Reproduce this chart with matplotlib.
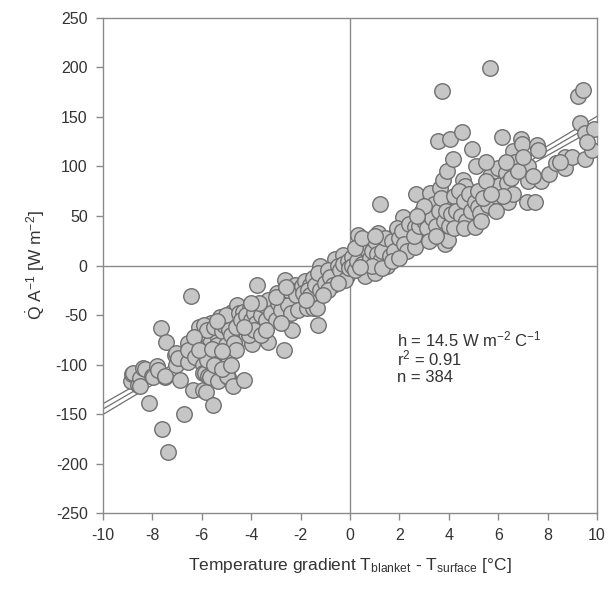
import numpy as np
import matplotlib
matplotlib.use("Agg")
import matplotlib.pyplot as plt

plt.rcParams['font.family'] = ['Liberation Sans', 'DejaVu Sans']
plt.rcParams['mathtext.fontset'] = 'custom'
plt.rcParams['mathtext.rm'] = 'Liberation Sans'
plt.rcParams['mathtext.it'] = 'Liberation Sans:italic'

# ---- data ----
pts_a = [(-8.85,-117),(-8.84,-110),(-8.79,-109),(-8.57,-121),(-8.51,-114),(-8.51,-122),(-8.37,-104),
         (-8.31,-105),(-8.13,-139),(-8.03,-112),(-7.98,-113),(-7.83,-102),(-7.77,-106),(-7.64,-63),
         (-7.62,-165),(-7.5,-113),(-7.49,-112),(-7.44,-77),(-7.37,-188),(-7.09,-90),(-7.03,-88),
         (-7.03,-100),(-6.95,-93),(-6.9,-116),(-6.72,-150),(-6.56,-78),(-6.56,-97),(-6.55,-85),
         (-6.43,-31),(-6.36,-126),(-6.29,-92)]
pts_b = [(-6.02,-67),(-5.95,-80),(-5.95,-100),(-5.94,-109),(-5.95,-126),(-5.82,-128),(-5.88,-109),
         (-5.74,-112),(-5.68,-74),(-5.68,-87),(-5.68,-113),(-5.61,-58),(-5.55,-141),(-5.34,-73),
         (-5.34,-93),(-5.34,-117),(-5.28,-52),(-4.94,-72),(-4.94,-93),(-4.94,-113),(-4.82,-58),
         (-4.99,-112),(-4.93,-92),(-4.86,-58),(-4.79,-47),(-4.72,-122),(-4.66,-55),(-4.59,-40),
         (-4.52,-65),(-4.52,-75),(-6.2,-70),(-6.1,-62),(-5.9,-60),(-5.8,-65),(-5.5,-62),(-5.4,-80),
         (-5.2,-66),(-5.1,-60),(-5.0,-50),(-5.0,-80),(-4.9,-65),(-4.8,-70),(-4.7,-78),(-4.6,-85),
         (-5.8,-95),(-5.5,-100),(-5.2,-105),(-6.3,-72),(-6.1,-85),(-5.6,-84),(-5.2,-86),(-4.8,-100),
         (-5.4,-56),(-4.6,-62),(-4.5,-48)]
pts_c = [(-4.32,-47),(-4.28,-116),(-4.12,-60),(-4.05,-43),(-3.98,-79),(-3.85,-62),(-3.78,-20),
         (-3.71,-45),(-3.71,-53),(-3.51,-60),(-3.37,-42),(-3.31,-50),(-3.31,-77),(-3.1,-40),
         (-3.04,-45),(-2.97,-28),(-2.9,-52),(-2.66,-85),(-2.63,-15),(-2.63,-37),(-2.63,-52),
         (-2.36,-30),(-2.36,-38),(-2.36,-65),(-2.23,-20),(-2.09,-25),(-2.09,-37),(-4.4,-55),
         (-4.2,-50),(-4.1,-70),(-4.0,-55),(-3.9,-48),(-3.8,-58),(-3.6,-50),(-3.5,-40),(-3.4,-55),
         (-3.3,-35),(-3.2,-48),(-3.0,-55),(-2.9,-38),(-2.8,-45),(-2.7,-30),(-2.5,-40),(-2.5,-25),
         (-2.4,-48),(-2.2,-30),(-2.1,-45),(-3.9,-65),(-3.6,-70),(-4.3,-62),(-3.0,-32),(-2.8,-58),
         (-3.7,-38),(-4.0,-38),(-3.4,-65),(-2.6,-22)]
pts_d = [(-1.96,-21),(-1.82,-16),(-1.75,-43),(-1.62,-20),(-1.49,-13),(-1.49,-43),(-1.35,-43),
         (-1.31,-60),(-1.21,-1),(-1.15,-15),(-1.01,-10),(-0.61,7),(-0.61,-10),(-0.27,11),
         (-0.27,-10),(-0.13,-11),(-1.9,-28),(-1.7,-25),(-1.6,-30),(-1.4,-20),(-1.3,-8),(-1.2,-25),
         (-1.0,-18),(-0.9,-5),(-0.8,-12),(-0.7,-20),(-0.5,0),(-0.4,-5),(-0.3,2),(-0.2,-15),
         (-0.1,5),(-0.9,-25),(-1.1,-30),(-0.5,-18),(-1.8,-35),(-0.05,-3)]
pts_e = [(0.07,9),(0.34,31),(0.40,12),(0.61,11),(0.61,-11),(0.74,22),(1.01,-8),(1.08,4),(1.15,33),
         (1.15,21),(1.21,62),(1.49,-1),(1.55,22),(1.82,31),(2.02,19),(2.16,49),(2.29,39),(2.43,31),
         (2.5,21),(0.1,0),(0.2,-5),(0.3,5),(0.5,2),(0.6,18),(0.8,8),(0.9,15),(1.0,25),(1.1,12),
         (1.2,5),(1.3,15),(1.4,28),(1.6,10),(1.7,25),(1.8,15),(1.9,38),(2.0,28),(2.1,35),(2.2,22),
         (2.3,15),(0.9,0),(0.4,-2),(1.3,-3),(1.7,5),(2.4,42),(0.2,18),(0.5,28),(1.0,30),(2.0,8)]
pts_f = [(2.63,39),(2.63,19),(2.66,72),(2.9,49),(3.04,31),(3.17,53),(3.24,73),(3.24,59),(3.37,43),
         (3.51,53),(3.58,126),(3.64,78),(3.71,36),(3.74,176),(3.78,86),(3.85,63),(3.85,22),
         (3.91,95),(3.98,26),(4.05,128),(4.12,64),(4.18,108),(4.38,63),(4.38,46),(4.38,59),
         (4.52,135),(4.59,86),(4.66,80),(4.79,61),(4.95,118),(2.6,30),(2.8,40),(2.9,55),(3.0,45),
         (3.1,38),(3.2,25),(3.3,48),(3.4,62),(3.5,40),(3.6,55),(3.7,68),(3.8,45),(3.9,55),(4.0,40),
         (4.1,52),(4.2,70),(4.3,55),(4.4,75),(4.5,50),(4.6,65),(4.7,45),(4.8,72),(4.9,55),(3.0,60),
         (2.7,50),(4.2,38),(3.5,30),(4.6,38)]
pts_g = [(5.06,64),(5.06,39),(5.19,59),(5.26,53),(5.6,61),(5.67,199),(5.67,90),(5.8,80),(5.94,70),
         (6.0,98),(6.07,81),(6.14,130),(6.32,93),(6.34,83),(6.41,64),(6.61,72),(6.61,116),
         (6.68,105),(6.92,128),(6.95,123),(7.15,64),(7.22,85),(7.22,100),(7.49,64),(7.56,122),
         (7.63,117),(7.72,85),(8.07,92),(8.34,104),(8.7,110),(8.7,98),(8.97,110),(9.24,171),
         (9.45,177),(9.31,144),(9.51,134),(9.51,108),(9.78,117),(9.88,138),(5.2,75),(5.4,68),
         (5.5,85),(5.3,45),(5.9,55),(6.2,70),(6.5,88),(6.8,95),(5.7,72),(6.3,105),(7.0,110),
         (7.4,90),(5.1,100),(5.5,105),(8.5,105),(9.6,125)]

all_pts = pts_a + pts_b + pts_c + pts_d + pts_e + pts_f + pts_g
gradient = np.array([p[0] for p in all_pts])
heat_flux = np.array([p[1] for p in all_pts])

slope = 14.5
intercept = 0.0

x_ticks = [-10, -8, -6, -4, -2, 0, 2, 4, 6, 8, 10]
y_ticks = [-250, -200, -150, -100, -50, 0, 50, 100, 150, 200, 250]

# ---- figure ----
fig = plt.figure(figsize=(6.08, 5.90), dpi=100)
ax = fig.add_axes([0.1694, 0.1305, 0.8125, 0.839])

spine_c = '#8a8a8a'
text_c = '#333333'

ax.axvline(0, color=spine_c, lw=1.0, zorder=1)
ax.axhline(0, color=spine_c, lw=1.0, zorder=1)

# regression line and 95% confidence band
xl = np.linspace(-10, 10, 200)
fit = slope * xl + intercept
resid = heat_flux - (slope * gradient + intercept)
n = len(gradient)
s = np.sqrt(np.sum(resid**2) / (n - 2))
sxx = np.sum((gradient - gradient.mean())**2)
half = 1.97 * s * np.sqrt(1.0 / n + (xl - gradient.mean())**2 / sxx)
for yy in (fit, fit + half, fit - half):
    ax.plot(xl, yy, color='#707070', lw=0.9, zorder=2)

ax.scatter(gradient, heat_flux, s=125, facecolor='#c6c6c6', edgecolor='#707070',
           linewidth=1.0, zorder=3)

ax.set_xlim(-10, 10)
ax.set_ylim(-250, 250)
ax.set_xticks(x_ticks)
ax.set_yticks(y_ticks)
ax.set_xticklabels([str(t) for t in x_ticks])
ax.set_yticklabels([str(t) for t in y_ticks])

for sp in ax.spines.values():
    sp.set_color(spine_c)
    sp.set_linewidth(1.0)
ax.tick_params(direction='out', length=5, width=1.0, color=spine_c,
               labelsize=11.5, labelcolor=text_c, pad=6)

ax.set_xlabel(r'Temperature gradient T$_{\mathrm{blanket}}$ - T$_{\mathrm{surface}}$ [°C]',
              fontsize=12.5, color=text_c, labelpad=9)
ax.set_ylabel(r'$\dot{\mathrm{Q}}$ A$^{\mathrm{-1}}$ [W m$^{\mathrm{-2}}$]',
              fontsize=12.5, color=text_c, labelpad=6)

ax.text(1.9, -75, r'h = 14.5 W m$^{\mathrm{-2}}$ C$^{\mathrm{-1}}$', fontsize=12,
        color=text_c, va='center', ha='left')
ax.text(1.9, -94, r'r$^{\mathrm{2}}$ = 0.91', fontsize=12, color=text_c, va='center', ha='left')
ax.text(1.9, -113, 'n = 384', fontsize=12, color=text_c, va='center', ha='left')

fig.savefig('out.png', dpi=100)
